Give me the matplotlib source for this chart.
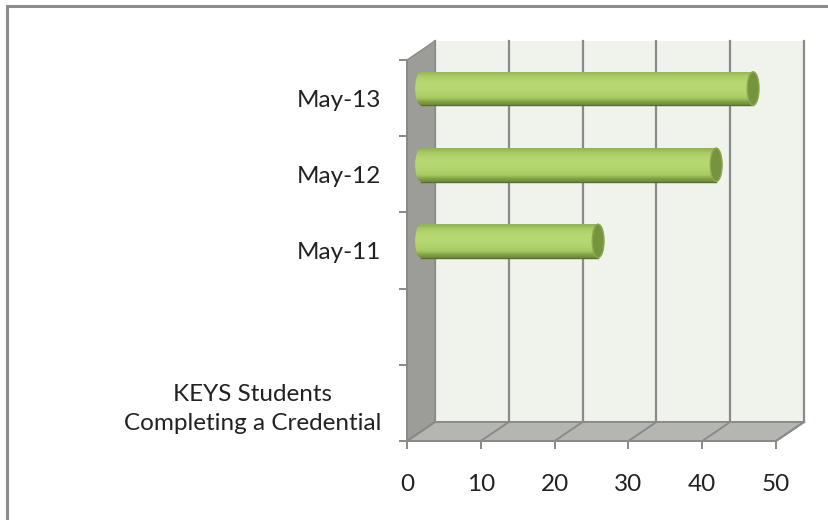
import numpy as np
import matplotlib
matplotlib.use("Agg")
import matplotlib.pyplot as plt
from matplotlib.patches import Rectangle, Ellipse, Polygon

plt.rcParams['font.family'] = ['Lato', 'DejaVu Sans']

# data
categories = ["KEYS Students\nCompleting a Credential", "", "May-11", "May-12", "May-13"]
values = [np.nan, np.nan, 24, 40, 45]
x_ticks = [0, 10, 20, 30, 40, 50]

# 3d look: depth offset of the back wall, in data units
DX, DY = 3.8, 0.25
BAR_H = 0.44
CAP_W = 1.6

wall = '#f0f3eb'
side = '#9c9d99'
floor = '#b5b6b1'
edge = '#8a8a8a'

fig = plt.figure(figsize=(8.29, 5.20), dpi=100)
ax = fig.add_axes([407 / 829, 79 / 520, 369 / 829, 381 / 520])
ax.set_xlim(0, 50)
ax.set_ylim(0, len(categories))
ax.patch.set_visible(False)

# outer chart border
fig.add_artist(Rectangle((7.5 / 829, -0.1), 1.2, (520 - 6) / 520 + 0.1,
                         transform=fig.transFigure, fill=False,
                         edgecolor='#8c8c8c', lw=2.2))

n = len(categories)
# back wall
ax.add_patch(Rectangle((DX, DY), 50, n, facecolor=wall, edgecolor='none',
                       zorder=0, clip_on=False))
for v in x_ticks:
    ax.plot([v + DX, v + DX], [DY, n + DY], color=edge, lw=1.6, zorder=1,
            clip_on=False)
# side wall
ax.add_patch(Polygon([(0, 0), (DX, DY), (DX, n + DY), (0, n)], closed=True,
                     facecolor=side, edgecolor=edge, lw=1, zorder=1, clip_on=False))
# floor
ax.add_patch(Polygon([(0, 0), (50, 0), (50 + DX, DY), (DX, DY)], closed=True,
                     facecolor=floor, edgecolor=edge, lw=1.4, zorder=1, clip_on=False))
for v in x_ticks:
    ax.plot([v, v + DX], [0, DY], color=edge, lw=1.4, zorder=1, clip_on=False)

# cylinders
grad = np.array([0.55, 0.75, 0.95, 1.0, 0.97, 0.9, 0.8, 0.6, 0.35])[:, None]
cmap = matplotlib.colors.LinearSegmentedColormap.from_list(
    'g', ['#4f6a28', '#6e8c38', '#a6c960', '#b8d873'])
for i, v in enumerate(values):
    if np.isnan(v):
        continue
    yc = i + 0.5 + DY / 2
    x0 = DX / 2
    body = Rectangle((x0, yc - BAR_H / 2), v, BAR_H, facecolor='none',
                     edgecolor='none', zorder=3)
    ax.add_patch(body)
    left = Ellipse((x0, yc), CAP_W, BAR_H, facecolor='none', edgecolor='none')
    ax.add_patch(left)
    for clip in (body, left):
        im = ax.imshow(grad, cmap=cmap, vmin=0, vmax=1, aspect='auto',
                       extent=(x0 - CAP_W / 2, x0 + v, yc - BAR_H / 2, yc + BAR_H / 2),
                       zorder=3, interpolation='bicubic')
        im.set_clip_path(clip)
    ax.plot([x0, x0 + v], [yc - BAR_H / 2, yc - BAR_H / 2], color='#56702c',
            lw=1, zorder=4)
    ax.add_patch(Ellipse((x0 + v, yc), CAP_W, BAR_H, facecolor='#76933e',
                         edgecolor='#8aab4c', lw=1, zorder=5))

ax.set_xlim(0, 50)
ax.set_ylim(0, n)

# axes, ticks and labels
for s in ['top', 'right']:
    ax.spines[s].set_visible(False)
for s in ['left', 'bottom']:
    ax.spines[s].set_color(edge)
    ax.spines[s].set_linewidth(1.4)
    ax.spines[s].set_zorder(6)

ax.set_xticks(x_ticks)
ax.set_xticklabels([str(t) for t in x_ticks])
ax.tick_params(axis='x', length=6, width=1.4, color=edge, pad=17.5,
               labelsize=17.5, labelcolor='#222222')
ax.set_yticks(range(n + 1))
ax.set_yticklabels([])
ax.tick_params(axis='y', which='major', length=6, width=1.4, color=edge)
ax.set_yticks(np.arange(n) + 0.5, minor=True)
ax.set_yticklabels(categories, minor=True, multialignment='center', linespacing=1.45)
ax.tick_params(axis='y', which='minor', length=0, pad=18.5, labelsize=17.5,
               labelcolor='#222222')

fig.savefig('out.png', dpi=100)
